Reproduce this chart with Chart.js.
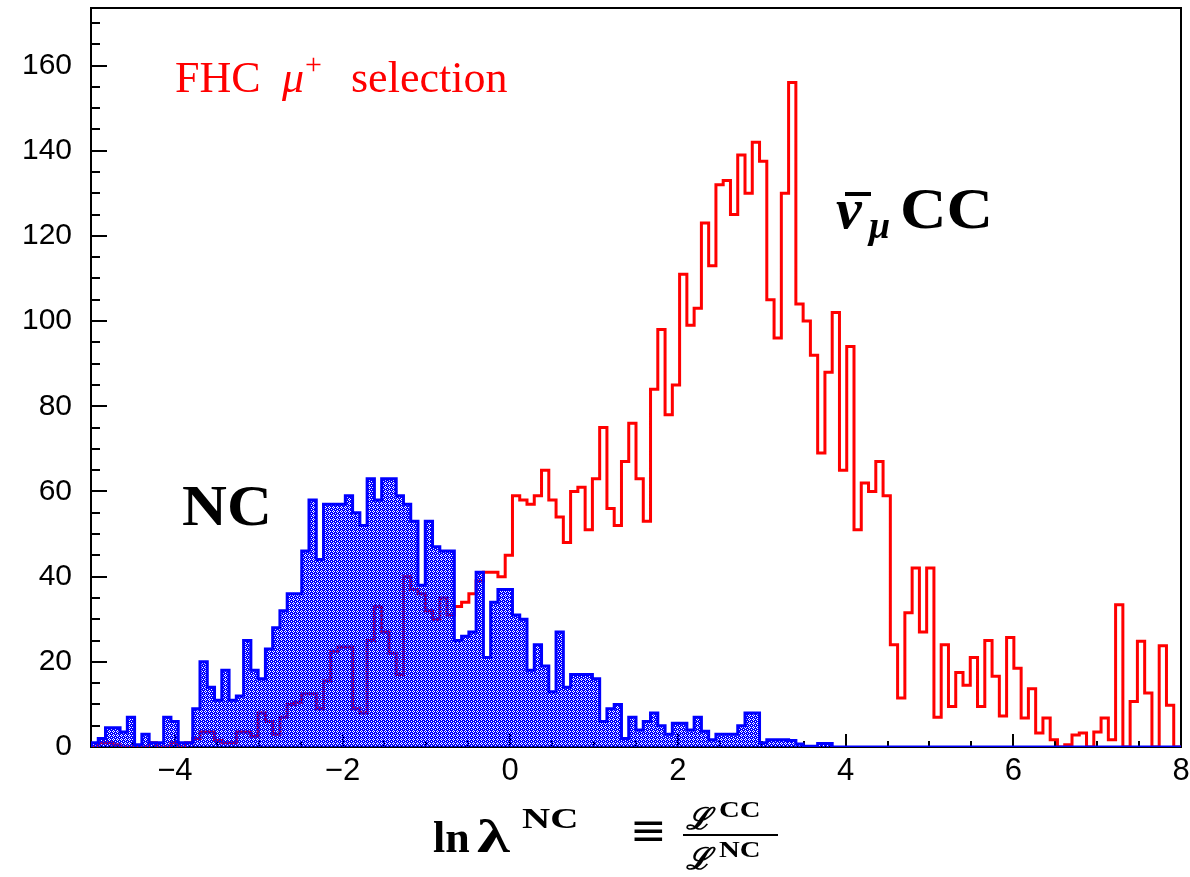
<!DOCTYPE html>
<html>
<head>
<meta charset="utf-8">
<script src="https://cdn.jsdelivr.net/npm/chart.js@4.4.1/dist/chart.umd.min.js"></script>
<style>
  html, body { margin: 0; padding: 0; background: #fff; }
  canvas { display: block; }
</style>
</head>
<body>
<canvas id="histo" width="1190" height="877"></canvas>
<script>
// --- Données ---
const xMin = -5, xMax = 8, nBins = 150;
const yMax = 173.5;
const xTickLabels = [-4, -2, 0, 2, 4, 6, 8];
const yTickLabels = [0, 20, 40, 60, 80, 100, 120, 140, 160];

// anti-nu_mu CC (rouge), 150 bins de -5 a 8
const ccValues = [
  0, 1, 1, 0.5, 0, 0, 0, 0, 1, 0,
  0, 1, 0, 1, 2, 3.5, 3.5, 1.5, 1, 1,
  3.5, 3.5, 2.5, 8, 6, 3, 7, 10, 10.5, 12.5,
  12.5, 9, 15.5, 22.5, 23.5, 23.5, 9, 8, 25, 33,
  27, 22, 17, 40, 37, 36, 32, 30, 35, 31,
  33, 34, 36, 39, 41, 41, 40, 45, 59, 58,
  57, 59, 65, 58, 54, 48, 60, 61, 51, 63,
  75, 56, 52, 67, 76, 63, 53, 84, 98, 78,
  85, 111, 99, 103, 123, 113, 132, 133, 125, 139,
  130, 142, 137.5, 105, 96, 130, 156, 104, 100, 92,
  69, 88, 102, 65, 94, 51, 62, 60, 67, 59,
  24, 11.5, 31.5, 42, 27, 42, 7, 24, 9.5, 17.5,
  14.5, 21, 9.5, 25, 16.6, 7.3, 25.7, 18.5, 6.8, 13.7,
  3.3, 6.8, 1.7, 0, 0.5, 2.8, 3.3, 0, 3.5, 6.8,
  1.7, 33.4, 0, 10.7, 24.8, 12.7, 0, 23.8, 9.8, 0
];

// NC (bleu, rempli)
const ncValues = [
  1, 2, 4.5, 4.5, 3.5, 7, 0.5, 3, 1, 1,
  7, 6, 1, 1, 9, 20, 14, 11, 18, 11,
  12, 25, 18, 16, 23, 28, 32, 36, 36, 46,
  58, 44, 57, 57, 57, 59, 55, 52, 63, 58,
  63, 63, 59, 57, 53, 38, 53, 47, 46, 46,
  25, 26, 27, 41, 21, 34, 37, 37, 31, 30,
  18, 24, 19, 13, 27, 14, 17, 17, 17, 16,
  6, 9, 10, 2, 7, 4, 6, 8, 5, 3,
  5.6, 5.6, 4, 7, 3.7, 1.7, 3, 3, 3, 5,
  8, 8, 1, 1.7, 1.7, 1.7, 1.5, 0.7, 0.2, 0.2,
  0.8, 0.8, 0, 0, 0, 0, 0, 0, 0, 0,
  0, 0, 0, 0, 0, 0, 0, 0, 0, 0,
  0, 0, 0, 0, 0, 0, 0, 0, 0, 0,
  0, 0, 0, 0, 0, 0, 0, 0, 0, 0,
  0, 0, 0, 0, 0, 0, 0, 0, 0, 0
];

// --- Histogramme -> points en escalier ---
const binWidth = (xMax - xMin) / nBins;
function histoPoints(values) {
  const pts = [{ x: xMin, y: 0 }];
  values.forEach((v, i) => pts.push({ x: xMin + i * binWidth, y: v }));
  pts.push({ x: xMax, y: values[values.length - 1] });
  pts.push({ x: xMax, y: 0 });
  return pts;
}

// motif de remplissage bleu avec trous transparents
function makePattern() {
  const c = document.createElement('canvas');
  c.width = 4; c.height = 4;
  const g = c.getContext('2d');
  g.fillStyle = '#0000ff';
  g.fillRect(0, 0, 4, 4);
  [[1, 0], [3, 1], [1, 2], [2, 3], [0, 3]].forEach(([i, j]) => g.clearRect(i, j, 1, 1));
  return g.createPattern(c, 'repeat');
}

// texte etire horizontalement (police serif grasse plus large)
function wideText(ctx, txt, x, y, font, sx) {
  ctx.save();
  ctx.translate(x, y);
  ctx.scale(sx, 1);
  ctx.font = font;
  ctx.fillText(txt, 0, 0);
  ctx.restore();
}

// --- Cadre, graduations, textes ---
const decorPlugin = {
  id: 'decor',
  beforeDatasetsDraw(chart) {
    const { ctx, chartArea: a, scales: { x, y } } = chart;
    ctx.save();
    ctx.strokeStyle = '#000';
    ctx.lineWidth = 2;
    ctx.strokeRect(a.left, a.top, a.right - a.left, a.bottom - a.top);
    ctx.beginPath();
    for (let i = -9; i <= 15; i++) {
      const px = Math.round(x.getPixelForValue(i / 2));
      const len = (i % 4 === 0) ? 13 : 6;
      ctx.moveTo(px, a.bottom);
      ctx.lineTo(px, a.bottom - len);
    }
    for (let v = 5; v <= 170; v += 5) {
      const py = Math.round(y.getPixelForValue(v));
      const len = (v % 20 === 0) ? 16 : 9;
      ctx.moveTo(a.left, py);
      ctx.lineTo(a.left + len, py);
    }
    ctx.stroke();
    ctx.restore();
  },
  afterDraw(chart) {
    const ctx = chart.ctx;
    ctx.save();
    ctx.textBaseline = 'alphabetic';
    ctx.textAlign = 'left';

    // FHC mu+ selection
    ctx.fillStyle = '#ff0000';
    ctx.font = '44px "Liberation Serif"';
    ctx.fillText('FHC', 175, 92);
    ctx.font = 'italic 44px "Liberation Serif"';
    ctx.fillText('\u03bc', 282, 92);
    ctx.font = '30px "Liberation Serif"';
    ctx.fillText('+', 305, 74);
    ctx.font = '44px "Liberation Serif"';
    ctx.fillText('selection', 351, 92);

    // NC
    ctx.fillStyle = '#000';
    wideText(ctx, 'NC', 182, 525, 'bold 56px "Liberation Serif"', 1.11);

    // nu-bar_mu CC
    ctx.font = 'italic bold 58px "Liberation Serif"';
    ctx.fillText('\u03bd', 836, 228);
    ctx.fillRect(845, 192, 26, 4);
    ctx.font = 'italic bold 38px "Liberation Serif"';
    ctx.fillText('\u03bc', 869, 238);
    wideText(ctx, 'CC', 900, 228, 'bold 56px "Liberation Serif"', 1.15);

    // titre axe x : ln lambda^NC = L^CC / L^NC
    ctx.font = 'bold 44px "Liberation Serif"';
    ctx.fillText('ln', 433, 852);
    wideText(ctx, '\u03bb', 477, 852, 'bold 46px "Liberation Serif"', 1.45);
    wideText(ctx, 'NC', 522, 828, 'bold 30px "Liberation Serif"', 1.3);
    ctx.font = '44px "DejaVu Serif"';
    ctx.fillText('\u2261', 630, 845);
    ctx.fillRect(683, 834, 95, 2);
    ctx.font = 'italic bold 30px "DejaVu Serif"';
    ctx.fillText('\u2112', 686, 829);
    ctx.fillText('\u2112', 686, 869);
    wideText(ctx, 'CC', 719, 817, 'bold 23px "Liberation Serif"', 1.25);
    wideText(ctx, 'NC', 719, 857, 'bold 23px "Liberation Serif"', 1.25);
    ctx.restore();
  }
};

const tickFont = { family: '"Liberation Sans", sans-serif', size: 30 };

new Chart(document.getElementById('histo'), {
  type: 'line',
  data: {
    datasets: [
      {
        label: 'NC',
        data: histoPoints(ncValues),
        stepped: true,
        borderColor: '#0000ff',
        borderWidth: 3,
        backgroundColor: makePattern(),
        fill: 'origin',
        pointRadius: 0,
        clip: 0
      },
      {
        label: 'CC',
        data: histoPoints(ccValues),
        stepped: true,
        borderColor: '#ff0000',
        borderWidth: 3,
        fill: false,
        pointRadius: 0,
        clip: 0
      }
    ]
  },
  options: {
    responsive: false,
    animation: false,
    devicePixelRatio: 1,
    layout: { padding: { top: 8, right: 9, left: 0, bottom: 0 } },
    plugins: { legend: { display: false }, tooltip: { enabled: false } },
    scales: {
      x: {
        type: 'linear', min: xMin, max: xMax,
        grid: { display: false, drawTicks: false },
        border: { display: false },
        afterBuildTicks: s => { s.ticks = xTickLabels.map(v => ({ value: v })); },
        afterFit: s => { s.height = 130; s.paddingLeft = 0; s.paddingRight = 0; },
        ticks: {
          padding: 6, color: '#000', maxRotation: 0, autoSkip: false,
          font: { family: tickFont.family, size: 31 },
          callback: v => String(v).replace('-', '\u2212')
        }
      },
      y: {
        type: 'linear', min: 0, max: yMax,
        grid: { display: false, drawTicks: false },
        border: { display: false },
        afterBuildTicks: s => { s.ticks = yTickLabels.map(v => ({ value: v })); },
        afterFit: s => { s.width = 91; s.paddingTop = 0; s.paddingBottom = 0; },
        ticks: { padding: 19, color: '#000', font: tickFont }
      }
    }
  },
  plugins: [decorPlugin]
});
</script>
</body>
</html>
